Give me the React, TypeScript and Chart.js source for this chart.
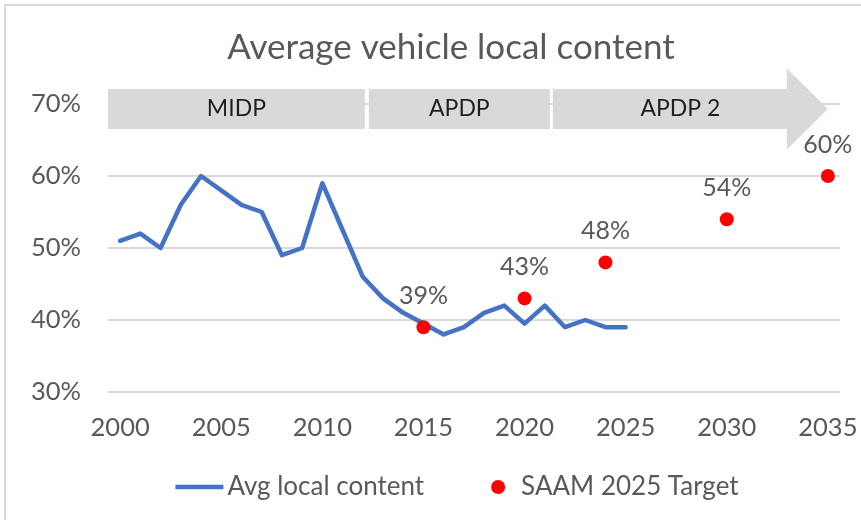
import { useEffect, useRef } from 'react';
import { Chart, registerables } from 'chart.js';

Chart.register(...registerables);

const TITLE = 'Average vehicle local content';
const SERIES_LABELS = ['Avg local content', 'SAAM 2025 Target'];

const YEARS = [
  2000, 2001, 2002, 2003, 2004, 2005, 2006, 2007, 2008, 2009, 2010, 2011, 2012,
  2013, 2014, 2015, 2016, 2017, 2018, 2019, 2020, 2021, 2022, 2023, 2024, 2025,
];
const AVG_LOCAL = [
  51, 52, 50, 56, 60, 58, 56, 55, 49, 50, 59, 52.5, 46,
  43, 41, 39.5, 38, 39, 41, 42, 39.5, 42, 39, 40, 39, 39,
];

const TARGET_YEARS = [2015, 2020, 2024, 2030, 2035];
const TARGET_VALUES = [39, 43, 48, 54, 60];

const X_TICKS = [2000, 2005, 2010, 2015, 2020, 2025, 2030, 2035];
const Y_TICKS = [30, 40, 50, 60, 70];
const X_MIN = 1999.4;
const X_MAX = 2035.6;

const PHASE_LABELS = ['MIDP', 'APDP', 'APDP 2'];
const PHASE_START = [1999.4, 2012.3, 2021.4];
const PHASE_END = [2012.1, 2021.25, 2035];

const FONT = 'Lato, "Open Sans", sans-serif';
const TEXT_COLOR = '#595959';
const LINE_COLOR = '#4472C4';
const DOT_COLOR = '#FF0000';
const BAND_COLOR = '#D9D9D9';

const framePlugin = {
  id: 'frame',
  beforeDraw(chart: any) {
    const { ctx, width, height, chartArea } = chart;
    ctx.save();
    ctx.fillStyle = '#ffffff';
    ctx.fillRect(0, 0, width, height);
    ctx.strokeStyle = '#d9d9d9';
    ctx.lineWidth = 2;
    ctx.beginPath();
    ctx.moveTo(5, height);
    ctx.lineTo(5, 5);
    ctx.lineTo(width, 5);
    ctx.stroke();
    // title
    ctx.fillStyle = TEXT_COLOR;
    ctx.font = `35px ${FONT}`;
    ctx.textAlign = 'center';
    ctx.textBaseline = 'middle';
    ctx.fillText(TITLE, (chartArea.left + chartArea.right) / 2 - 23, 48);
    ctx.restore();
  },
};

const phasePlugin = {
  id: 'phases',
  beforeDatasetsDraw(chart: any) {
    const { ctx, scales } = chart;
    const xs = scales.x;
    const ys = scales.y;
    const y70 = ys.getPixelForValue(70);
    const top = y70 - 15;
    const bottom = y70 + 25;
    const mid = (top + bottom) / 2;
    ctx.save();
    PHASE_LABELS.forEach((label, i) => {
      const x0 = xs.getPixelForValue(PHASE_START[i]);
      const x1 = xs.getPixelForValue(PHASE_END[i]);
      const isArrow = i === PHASE_LABELS.length - 1;
      let cx = (x0 + x1) / 2;
      ctx.fillStyle = BAND_COLOR;
      if (isArrow) {
        const head = 41;
        const half = 40.5;
        ctx.beginPath();
        ctx.moveTo(x0, top);
        ctx.lineTo(x1 - head, top);
        ctx.lineTo(x1 - head, mid - half);
        ctx.lineTo(x1, mid);
        ctx.lineTo(x1 - head, mid + half);
        ctx.lineTo(x1 - head, bottom);
        ctx.lineTo(x0, bottom);
        ctx.closePath();
        ctx.fill();
        cx = (x0 + x1) / 2 - 10;
      } else {
        ctx.fillRect(x0, top, x1 - x0, bottom - top);
      }
      ctx.fillStyle = '#1f1f1f';
      ctx.font = `23px ${FONT}`;
      ctx.textAlign = 'center';
      ctx.textBaseline = 'middle';
      ctx.fillText(label, cx, mid);
    });
    ctx.restore();
  },
};

const labelPlugin = {
  id: 'targetLabels',
  afterDatasetsDraw(chart: any) {
    const { ctx } = chart;
    const meta = chart.getDatasetMeta(1);
    ctx.save();
    ctx.fillStyle = TEXT_COLOR;
    ctx.font = `25px ${FONT}`;
    ctx.textAlign = 'center';
    ctx.textBaseline = 'middle';
    meta.data.forEach((el: any, i: number) => {
      ctx.fillText(`${TARGET_VALUES[i]}%`, el.x, el.y - 31);
    });
    ctx.restore();
  },
};

const legendPlugin = {
  id: 'customLegend',
  afterDraw(chart: any) {
    const { ctx, chartArea } = chart;
    ctx.save();
    ctx.font = `26px ${FONT}`;
    ctx.textBaseline = 'middle';
    ctx.textAlign = 'left';
    const w1 = ctx.measureText(SERIES_LABELS[0]).width;
    const w2 = ctx.measureText(SERIES_LABELS[1]).width;
    const lineLen = 48;
    const gap1 = 4;
    const itemGap = 67;
    const dotR = 7;
    const gap2 = 16;
    const total = lineLen + gap1 + w1 + itemGap + dotR * 2 + gap2 + w2;
    const cx = (chartArea.left + chartArea.right) / 2 - 17;
    const y = 487;
    let x = cx - total / 2;
    ctx.strokeStyle = LINE_COLOR;
    ctx.lineWidth = 4.5;
    ctx.beginPath();
    ctx.moveTo(x, y);
    ctx.lineTo(x + lineLen, y);
    ctx.stroke();
    x += lineLen + gap1;
    ctx.fillStyle = TEXT_COLOR;
    ctx.fillText(SERIES_LABELS[0], x, y);
    x += w1 + itemGap;
    ctx.fillStyle = DOT_COLOR;
    ctx.beginPath();
    ctx.arc(x + dotR, y, dotR, 0, Math.PI * 2);
    ctx.fill();
    x += dotR * 2 + gap2;
    ctx.fillStyle = TEXT_COLOR;
    ctx.fillText(SERIES_LABELS[1], x, y);
    ctx.restore();
  },
};

export default function App() {
  const ref = useRef<HTMLCanvasElement | null>(null);

  useEffect(() => {
    if (!ref.current) return;
    const chart = new Chart(ref.current, {
      type: 'line',
      data: {
        datasets: [
          {
            type: 'line',
            label: SERIES_LABELS[0],
            data: YEARS.map((x, i) => ({ x, y: AVG_LOCAL[i] })),
            borderColor: LINE_COLOR,
            backgroundColor: LINE_COLOR,
            borderWidth: 4.5,
            pointRadius: 0,
            tension: 0,
            fill: false,
            borderJoinStyle: 'round',
            borderCapStyle: 'round',
            order: 2,
          },
          {
            type: 'scatter',
            label: SERIES_LABELS[1],
            data: TARGET_YEARS.map((x, i) => ({ x, y: TARGET_VALUES[i] })),
            backgroundColor: DOT_COLOR,
            borderColor: DOT_COLOR,
            borderWidth: 0,
            pointRadius: 7,
            showLine: false,
            order: 1,
          },
        ] as any,
      },
      options: {
        responsive: false,
        animation: false,
        events: [],
        layout: { padding: { left: 0, right: 21, top: 104, bottom: 68 } },
        scales: {
          x: {
            type: 'linear',
            min: X_MIN,
            max: X_MAX,
            grid: { display: false },
            border: { display: false },
            afterBuildTicks: (s: any) => {
              s.ticks = X_TICKS.map((v) => ({ value: v }));
            },
            afterFit: (s: any) => {
              s.height = 60;
              s.paddingLeft = 0;
              s.paddingRight = 0;
            },
            ticks: {
              callback: (v: any) => String(v),
              font: { family: FONT, size: 25.5 },
              color: TEXT_COLOR,
              padding: 12,
              maxRotation: 0,
              autoSkip: false,
            },
          },
          y: {
            min: 30,
            max: 70,
            grid: { color: '#d9d9d9', lineWidth: 2, drawTicks: false },
            border: { display: false },
            afterBuildTicks: (s: any) => {
              s.ticks = Y_TICKS.map((v) => ({ value: v }));
            },
            afterFit: (s: any) => {
              s.width = 108;
              s.paddingTop = 0;
              s.paddingBottom = 0;
            },
            ticks: {
              callback: (v: any) => `${v}%`,
              font: { family: FONT, size: 25.5 },
              color: TEXT_COLOR,
              padding: 27,
            },
          },
        },
        plugins: {
          legend: { display: false },
          tooltip: { enabled: false },
          title: { display: false },
        },
      } as any,
      plugins: [framePlugin, phasePlugin, labelPlugin, legendPlugin],
    });
    return () => chart.destroy();
  }, []);

  return (
    <div style={{ position: 'fixed', left: 0, top: 0, width: 861, height: 520, background: '#fff' }}>
      <canvas ref={ref} width={861} height={520} style={{ display: 'block', width: 861, height: 520 }} />
    </div>
  );
}
